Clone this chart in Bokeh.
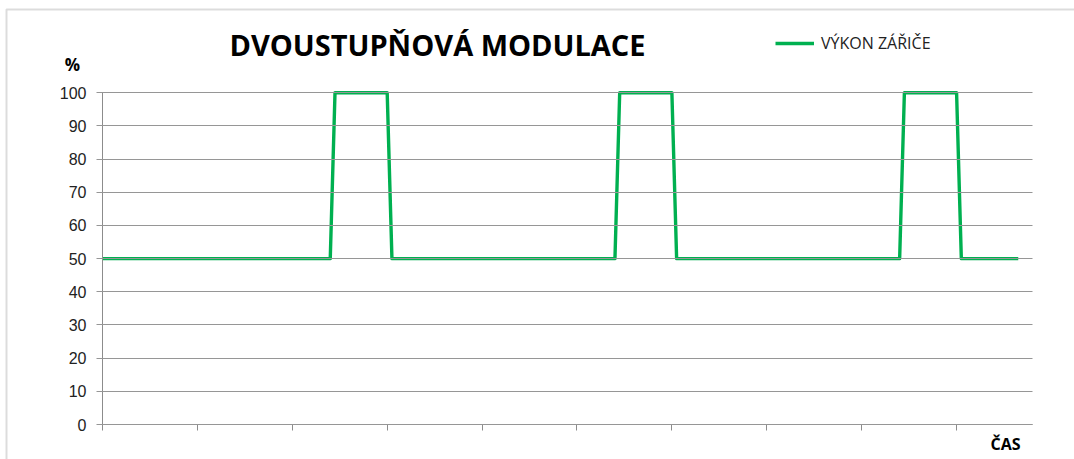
from bokeh.plotting import figure
from bokeh.models import Range1d, FixedTicker, Label, Legend, LegendItem, BoxAnnotation
from bokeh.embed import file_html
from bokeh.resources import INLINE

# ---- data ----
cas = [0, 24, 24.5, 30, 30.5, 54, 54.5, 60, 60.5, 84, 84.5, 90, 90.5, 96.5]
vykon = [50, 50, 100, 100, 50, 50, 100, 100, 50, 50, 100, 100, 50, 50]
y_ticks = [0, 10, 20, 30, 40, 50, 60, 70, 80, 90, 100]
x_ticks = [0, 10, 20, 30, 40, 50, 60, 70, 80, 90]
title_text = "DVOUSTUPŇOVÁ MODULACE"
series_name = "VÝKON ZÁŘIČE"
y_label = "%"
x_label = "ČAS"

# ---- geometry (pixels) ----
W, H = 1074, 459
PL, PR, PT, PB = 102, 1032, 92.3, 424      # plot area: x of 0 / x of 98, y of 100 / y of 0
X_MAX, Y_MAX = 98, 100
kx = (PR - PL) / X_MAX
ky = (PB - PT) / Y_MAX


def ux(px):
    return (px - PL) / kx


def vy(py):
    return (PB - py) / ky


GREEN = "#00B050"
GRAY = "#8c8c8c"
GRID = "#969696"
TXT = "#222222"

p = figure(width=W, height=H, output_backend="svg", toolbar_location=None,
           x_range=Range1d(ux(0), ux(W)), y_range=Range1d(vy(H), vy(0)),
           min_border=0, min_border_left=0, min_border_right=0,
           min_border_top=0, min_border_bottom=0)
p.outline_line_color = None
p.xgrid.visible = False
p.ygrid.visible = False

# outer chart border (left/top visible in window)
p.add_layout(BoxAnnotation(left=ux(6), right=ux(W + 50), top=vy(9), bottom=vy(H + 50),
                           fill_alpha=0, line_color=GRAY, line_width=2, level="underlay"))

# axes fixed at the data origin; y ticks drawn inward act as gridlines
p.yaxis.fixed_location = 0
p.yaxis.ticker = FixedTicker(ticks=y_ticks)
p.yaxis.bounds = (0, Y_MAX)
p.yaxis.axis_line_color = GRAY
p.yaxis.major_tick_line_color = GRID
p.yaxis.major_tick_out = 6
p.yaxis.major_tick_in = int(round(PR - PL))
p.yaxis.minor_tick_line_color = None
p.yaxis.major_label_standoff = 10
p.yaxis.major_label_text_font = "Liberation Sans"
p.yaxis.major_label_text_font_size = "16px"
p.yaxis.major_label_text_color = TXT

p.xaxis.fixed_location = 0
p.xaxis.ticker = FixedTicker(ticks=x_ticks)
p.xaxis.bounds = (0, X_MAX)
p.xaxis.axis_line_color = GRAY
p.xaxis.major_tick_line_color = GRAY
p.xaxis.major_tick_out = 6
p.xaxis.major_tick_in = 0
p.xaxis.minor_tick_line_color = None
p.xaxis.major_label_text_color = None

r = p.line(cas, vykon, line_color=GREEN, line_width=3.4, line_join="round")

# texts
p.add_layout(Label(x=ux(437), y=vy(44), text=title_text, text_font="Open Sans",
                   text_font_style="bold", text_font_size="29px", text_color="black",
                   text_align="center", text_baseline="alphabetic"))
p.add_layout(Label(x=ux(72), y=vy(63.7), text=y_label, text_font="Open Sans",
                   text_font_style="bold", text_font_size="17px", text_color="black",
                   text_align="center", text_baseline="alphabetic"))
p.add_layout(Label(x=ux(1005), y=vy(443), text=x_label, text_font="Open Sans",
                   text_font_style="bold", text_font_size="16px", text_color="black",
                   text_align="center", text_baseline="alphabetic"))

legend = Legend(items=[LegendItem(label=series_name, renderers=[r])],
                location=(775, H - 54), orientation="horizontal",
                glyph_width=39, glyph_height=20, label_standoff=7,
                padding=0, margin=0, spacing=0,
                border_line_color=None, background_fill_alpha=0,
                label_text_font="Open Sans", label_text_font_size="16px",
                label_text_color=TXT)
p.add_layout(legend, "center")

open("out.html", "w").write(file_html(p, INLINE))
